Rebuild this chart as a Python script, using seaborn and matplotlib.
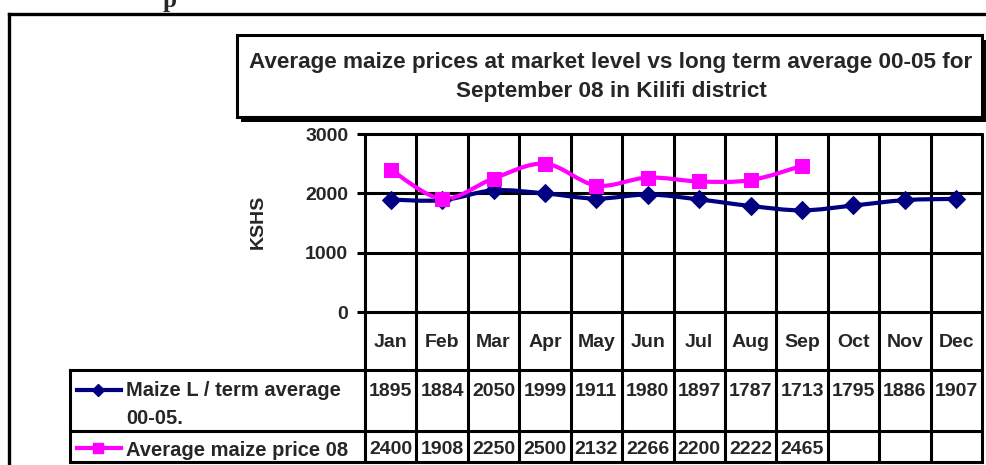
import matplotlib
matplotlib.use("Agg")
import matplotlib.pyplot as plt
import matplotlib.transforms as mtransforms
from matplotlib.path import Path
from matplotlib.patches import PathPatch, Rectangle
from matplotlib.lines import Line2D
import seaborn as sns
import numpy as np
import pandas as pd

# ---------------- data ----------------
months = ["Jan", "Feb", "Mar", "Apr", "May", "Jun", "Jul", "Aug", "Sep", "Oct", "Nov", "Dec"]
long_term_avg = [1895, 1884, 2050, 1999, 1911, 1980, 1897, 1787, 1713, 1795, 1886, 1907]
price_08 = [2400, 1908, 2250, 2500, 2132, 2266, 2200, 2222, 2465]
series_names = ["Maize L / term average\n00-05.", "Average maize price 08"]
y_ticks = [0, 1000, 2000, 3000]
title_text = ("Average maize prices at market level vs long term average 00-05 for\n"
              "September 08 in Kilifi district")
y_label = "KSHS"

NAVY = "#000080"
MAGENTA = "#FF00FF"
FS = 14

W, H = 986, 465
sns.set_theme(style="white")
plt.rcParams['font.family'] = ['Liberation Sans', 'DejaVu Sans']
plt.rcParams['font.weight'] = 'bold'

fig = plt.figure(figsize=(W / 100, H / 100), dpi=100)
fig.patch.set_facecolor("white")


def fx(px):
    return px / W


def fy(py):
    return 1 - py / H


def fline(x0, y0, x1, y1, lw=2.2, color="black", z=5):
    fig.add_artist(Line2D([fx(x0), fx(x1)], [fy(y0), fy(y1)], transform=fig.transFigure,
                          color=color, lw=lw, solid_capstyle="projecting", zorder=z))


# ---------------- axes ----------------
ax_l, ax_r, ax_t, ax_b = 365, 982, 134, 312
ax = fig.add_axes([fx(ax_l), fy(ax_b), fx(ax_r) - fx(ax_l), (ax_b - ax_t) / H])
ax.set_xlim(-0.5, 11.5)
ax.set_ylim(0, 3000)
ax.set_facecolor("white")
for s in ax.spines.values():
    s.set_visible(False)
ax.set_xticks([])
ax.set_yticks(y_ticks)
ax.set_yticklabels([str(v) for v in y_ticks], fontsize=FS, fontweight="bold")
ax.tick_params(axis="y", length=6, width=2.2, color="black", pad=6, direction="out", left=True)

table_bottom = 462
ymin_frac = -(table_bottom - ax_b) / (ax_b - ax_t)
# horizontal gridlines
for v in y_ticks:
    ax.axhline(v, color="black", lw=2.2, zorder=1, clip_on=False)
# vertical gridlines (category boundaries), extending through data table
for i in range(len(months) + 1):
    ax.axvline(i - 0.5, ymin=ymin_frac, ymax=1, color="black", lw=2.2, zorder=1, clip_on=False)


# ---------------- smoothed lines (Excel style) ----------------
def smooth_path(xs, ys):
    pts = np.column_stack([xs, ys]).astype(float)
    n = len(pts)
    verts = [pts[0]]
    codes = [Path.MOVETO]
    for i in range(n - 1):
        p0 = pts[i - 1] if i > 0 else pts[i]
        p1 = pts[i]
        p2 = pts[i + 1]
        p3 = pts[i + 2] if i + 2 < n else pts[i + 1]
        c1 = p1 + (p2 - p0) / 6.0
        c2 = p2 - (p3 - p1) / 6.0
        verts += [c1, c2, p2]
        codes += [Path.CURVE4] * 3
    return Path(verts, codes)


df1 = pd.DataFrame({"x": np.arange(len(long_term_avg)), "value": long_term_avg})
df2 = pd.DataFrame({"x": np.arange(len(price_08)), "value": price_08})

ax.add_patch(PathPatch(smooth_path(df1["x"], df1["value"]), facecolor="none",
                       edgecolor=NAVY, lw=3.0, zorder=3, capstyle="round"))
ax.add_patch(PathPatch(smooth_path(df2["x"], df2["value"]), facecolor="none",
                       edgecolor=MAGENTA, lw=3.0, zorder=3, capstyle="round"))

sns.lineplot(data=df1, x="x", y="value", ax=ax, color=NAVY, marker="D", markersize=9.5,
             markeredgecolor=NAVY, linestyle="none", zorder=4, legend=False)
sns.lineplot(data=df2, x="x", y="value", ax=ax, color=MAGENTA, marker="s", markersize=10,
             markeredgecolor=MAGENTA, linestyle="none", zorder=4, legend=False)
ax.set_xlabel("")
ax.set_ylabel("")
ax.set_xlim(-0.5, 11.5)
ax.set_ylim(0, 3000)

# y label
fig.text(fx(258), fy(222), y_label, rotation=90, ha="center", va="center",
         fontsize=FS, fontweight="bold")

# ---------------- data table ----------------
bt = mtransforms.blended_transform_factory(ax.transData, fig.transFigure)
for i, m in enumerate(months):
    ax.text(i, fy(342), m, transform=bt, ha="center", va="center", fontsize=FS,
            fontweight="bold", clip_on=False)
for i, v in enumerate(long_term_avg):
    ax.text(i, fy(391), str(v), transform=bt, ha="center", va="center", fontsize=FS,
            fontweight="bold", clip_on=False)
for i, v in enumerate(price_08):
    ax.text(i, fy(449), str(v), transform=bt, ha="center", va="center", fontsize=FS,
            fontweight="bold", clip_on=False)

# table horizontal lines
fline(70, 370, ax_r, 370)
fline(70, 431, ax_r, 431)
fline(70, 462, ax_r, 462)
fline(70, 370, 70, 462)

# legend keys
fline(77, 390, 121, 390, lw=3, color=NAVY, z=6)
fig.add_artist(Line2D([fx(98)], [fy(390)], transform=fig.transFigure, marker="D",
                      markersize=6.5, color=NAVY, zorder=7))
fline(77, 448, 121, 448, lw=3, color=MAGENTA, z=6)
fig.add_artist(Line2D([fx(98)], [fy(448)], transform=fig.transFigure, marker="s",
                      markersize=7, color=MAGENTA, zorder=7))
first, second = series_names[0].split("\n")
fig.text(fx(126), fy(391), first, ha="left", va="center", fontsize=14.5, fontweight="bold")
fig.text(fx(126), fy(418), second, ha="left", va="center", fontsize=14.5, fontweight="bold")
fig.text(fx(126), fy(450), series_names[1], ha="left", va="center", fontsize=14.5,
         fontweight="bold")

# ---------------- title box ----------------
fig.add_artist(Rectangle((fx(241), fy(122)), fx(986) - fx(241), (122 - 40) / H,
                         transform=fig.transFigure, facecolor="black", edgecolor="none", zorder=2))
fig.add_artist(Rectangle((fx(237), fy(117)), fx(982) - fx(237), (117 - 35) / H,
                         transform=fig.transFigure, facecolor="white", edgecolor="black",
                         lw=2.2, zorder=3))
fig.text(fx(611), fy(77), title_text, ha="center", va="center", fontsize=16.2,
         fontweight="bold", linespacing=1.55, zorder=4)

# ---------------- outer frame ----------------
fline(9, 14, 986, 14, lw=2.4)
fline(9, 14, 9, 465, lw=2.4)

# clipped heading fragment from the page above (cut off in the reference too)
fig.text(fx(170), fy(7), "p", ha="center", va="baseline", fontsize=18, fontweight="bold",
         family=["Liberation Serif", "DejaVu Serif"])

fig.savefig("out.png", dpi=100, facecolor="white")
